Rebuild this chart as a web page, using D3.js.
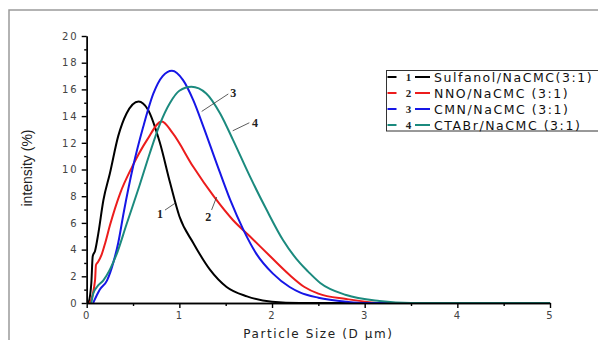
<!DOCTYPE html>
<html>
<head>
<meta charset="utf-8">
<script src="https://cdn.jsdelivr.net/npm/d3@7"></script>
<style>
  body { margin: 0; background: #fff; }
  svg { display: block; }
  .tick text { font-family: "DejaVu Sans", sans-serif; font-size: 10px; fill: #444; letter-spacing: 2px; }
  .axis path, .axis line { stroke: #000; stroke-width: 1.4; }
</style>
</head>
<body>
<div id="chart"></div>
<script>
// size distributions: [particle size µm, intensity %]
const sulfanol = [[0.02,0],[0.05,1.5],[0.065,3.5],[0.09,3.9],[0.125,5.2],[0.18,7.7],[0.25,9.7],[0.34,12.5],
  [0.43,14.2],[0.56,15.1],[0.66,14.5],[0.79,12.0],[0.9,9.0],[1.0,6.5],[1.15,4.5],[1.33,2.5],[1.51,1.2],
  [1.73,0.5],[2.0,0.1],[2.3,0],[5,0]]
const nno = [[0.035,0],[0.09,1.7],[0.1,2.85],[0.125,3.1],[0.16,3.6],[0.2,4.5],[0.25,5.8],[0.36,8.2],
  [0.49,10.2],[0.65,12.2],[0.81,13.6],[0.93,12.7],[1.15,10.2],[1.37,8.0],[1.58,6.2],[1.76,5.0],
  [1.98,3.5],[2.19,2.1],[2.35,1.2],[2.5,0.7],[2.8,0.3],[3.2,0],[5,0]]
const cmn = [[0.07,0],[0.11,0.6],[0.14,1.0],[0.22,1.7],[0.29,3.1],[0.34,4.5],[0.4,6.8],[0.5,10.2],
  [0.61,13.2],[0.72,15.7],[0.82,17.0],[0.92,17.4],[1.04,16.7],[1.15,15.2],[1.26,13.2],[1.4,10.5],
  [1.55,7.7],[1.69,5.5],[1.83,3.7],[2.01,2.2],[2.19,1.2],[2.3,0.8],[2.5,0.4],[2.8,0.1],[3.0,0],[5,0]]
const ctabr = [[0.05,0],[0.07,0.7],[0.11,1.2],[0.18,1.7],[0.25,2.5],[0.32,3.6],[0.43,5.9],[0.57,8.8],
  [0.68,11.2],[0.79,13.4],[0.9,15.0],[1.0,15.9],[1.13,16.2],[1.29,15.7],[1.44,14.2],[1.58,12.2],
  [1.76,9.5],[1.94,7.0],[2.12,4.7],[2.3,3.0],[2.39,2.35],[2.52,1.5],[2.8,0.6],[3.16,0.15],[3.5,0],[5,0]]

const seriesData   = [sulfanol, nno, cmn, ctabr]
const seriesLabels = ["Sulfanol/NaCMC(3:1)", "NNO/NaCMC (3:1)", "CMN/NaCMC (3:1)", "CTABr/NaCMC (3:1)"]
const seriesNums   = ["1", "2", "3", "4"]
const colors       = ["#000000", "#ec1c1c", "#1616e6", "#1b8a7e"]

const xMajor = [0, 1, 2, 3, 4, 5]
const xMinor = [0.5, 1.5, 2.5, 3.5, 4.5]
const yMajor = [0, 2, 4, 6, 8, 10, 12, 14, 16, 18, 20]
const yMinor = [1, 3, 5, 7, 9, 11, 13, 15, 17, 19]

// numbered callouts: label position, leader start, leader end (data units)
const callouts = [
  { n: "1", at: [0.79, 6.7],  from: [0.845, 6.96], to: [0.953, 7.47] },
  { n: "2", at: [1.312, 6.45], from: [1.348, 6.97], to: [1.402, 7.94] },
  { n: "3", at: [1.582, 15.78], from: [1.528, 15.66], to: [1.241, 14.35] },
  { n: "4", at: [1.816, 13.5], from: [1.755, 13.5], to: [1.576, 12.9] }
]

const W = 598, H = 340
const margin = { top: 36, left: 86.7 }
const width = 463.3, height = 267

const svg = d3.select("#chart").append("svg")
  .attr("width", W).attr("height", H)

// grey frame around the figure (only top and left show)
svg.append("path")
  .attr("d", `M9,${H} V10 H${W}`)
  .attr("fill", "none").attr("stroke", "#9a9a9a").attr("stroke-width", 1.5)

const g = svg.append("g").attr("transform", `translate(${margin.left},${margin.top})`)

const x = d3.scaleLinear().domain([0, 5]).range([0, width])
const y = d3.scaleLinear().domain([0, 20]).range([height, 0])

// curves
const line = d3.line().x(d => x(d[0])).y(d => y(d[1])).curve(d3.curveMonotoneX)
g.selectAll(".curve")
  .data(seriesData).join("path")
  .attr("class", "curve")
  .attr("d", line)
  .attr("fill", "none")
  .attr("stroke", (d, i) => colors[i])
  .attr("stroke-width", 2)

// axes
g.append("g").attr("class", "axis")
  .attr("transform", `translate(0,${height})`)
  .call(d3.axisBottom(x).tickValues(xMinor).tickSize(3).tickSizeOuter(0).tickFormat(""))
g.append("g").attr("class", "axis")
  .attr("transform", `translate(0,${height})`)
  .call(d3.axisBottom(x).tickValues(xMajor).tickSize(5).tickSizeOuter(0).tickPadding(4).tickFormat(d3.format("d")))

g.append("g").attr("class", "axis")
  .call(d3.axisLeft(y).tickValues(yMinor).tickSize(2.5).tickSizeOuter(0).tickFormat(""))
g.append("g").attr("class", "axis")
  .call(d3.axisLeft(y).tickValues(yMajor).tickSize(5).tickSizeOuter(0).tickPadding(3).tickFormat(d3.format("d")))

// axis titles
g.append("text")
  .attr("x", width / 2).attr("y", height + 35)
  .attr("text-anchor", "middle")
  .style("font-family", "DejaVu Sans, sans-serif").style("font-size", "12px")
  .style("letter-spacing", "1.6px").style("fill", "#222")
  .text("Particle Size (D µm)")

svg.append("text")
  .attr("transform", `translate(32,168) rotate(-90)`)
  .attr("text-anchor", "middle")
  .style("font-family", "Liberation Sans, Arial, sans-serif").style("font-size", "14px")
  .style("fill", "#222")
  .text("intensity (%)")

// callouts
callouts.forEach(c => {
  g.append("line")
    .attr("x1", x(c.from[0])).attr("y1", y(c.from[1]))
    .attr("x2", x(c.to[0])).attr("y2", y(c.to[1]))
    .attr("stroke", "#333").attr("stroke-width", 0.8)
  g.append("text")
    .attr("x", x(c.at[0])).attr("y", y(c.at[1]))
    .attr("dy", "0.35em").attr("text-anchor", "middle")
    .style("font-family", "Liberation Serif, Times New Roman, serif")
    .style("font-weight", "bold").style("font-size", "12px").style("fill", "#222")
    .text(c.n)
})

// legend box at top right
const legend = svg.append("g").attr("transform", "translate(386.5,70.5)")
legend.append("rect")
  .attr("width", 220).attr("height", 60.5)
  .attr("fill", "#fff").attr("stroke", "#333").attr("stroke-width", 1)

const rows = legend.selectAll(".row")
  .data(seriesLabels).join("g")
  .attr("transform", (d, i) => `translate(0,${6.5 + i * 16})`)

rows.append("line").attr("x1", 1).attr("x2", 10)
  .attr("stroke", (d, i) => colors[i]).attr("stroke-width", 2)
rows.append("line").attr("x1", 28.5).attr("x2", 43.5)
  .attr("stroke", (d, i) => colors[i]).attr("stroke-width", 2)
rows.append("text")
  .attr("x", 22).attr("dy", "0.35em").attr("text-anchor", "middle")
  .style("font-family", "Liberation Serif, Times New Roman, serif")
  .style("font-weight", "bold").style("font-size", "11px").style("fill", "#222")
  .text((d, i) => seriesNums[i])
rows.append("text")
  .attr("x", 47.5).attr("dy", "0.36em")
  .style("font-family", "DejaVu Sans, sans-serif").style("font-size", "12.5px")
  .style("letter-spacing", "1.55px").style("fill", "#111")
  .text(d => d)
</script>
</body>
</html>
